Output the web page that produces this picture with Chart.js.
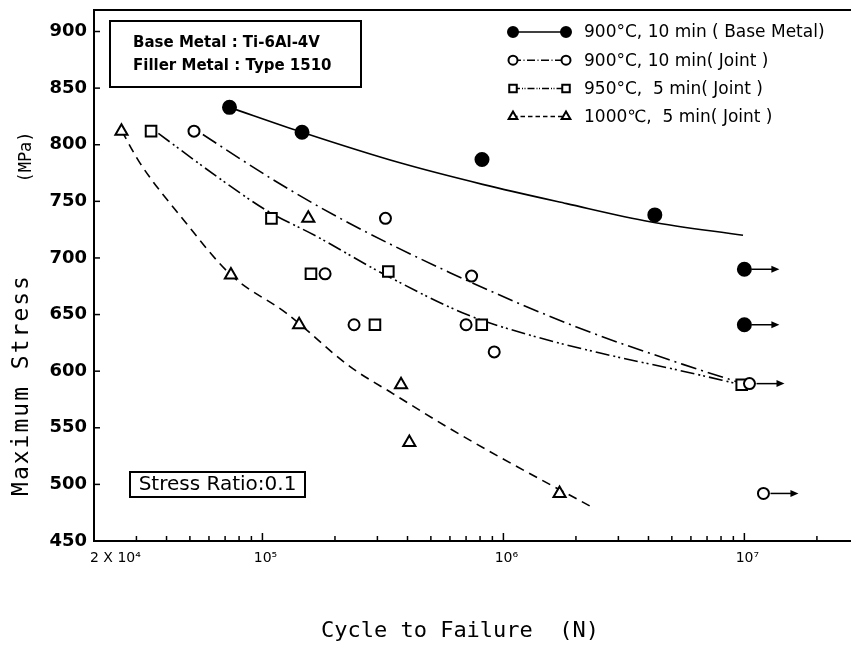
<!DOCTYPE html>
<html>
<head>
<meta charset="utf-8">
<script src="https://cdn.jsdelivr.net/npm/chart.js@4.4.0/dist/chart.umd.min.js"></script>
<style>
  html, body { margin: 0; padding: 0; background: #fff; }
</style>
</head>
<body>
<canvas id="snChart" width="851" height="648"></canvas>
<script>
// S-N data: cycles to failure (N) and max stress (MPa)
var baseN = [7.3e4, 1.46e5, 8.15e5, 4.25e6, 1.0e7, 1.0e7];
var baseS = [833, 811, 787, 738, 690, 641];
var baseRunout = [false, false, false, false, true, true];

var joint900N = [5.2e4, 1.82e5, 2.4e5, 3.24e5, 7.0e5, 7.38e5, 9.16e5, 1.05e7, 1.2e7];
var joint900S = [812, 686, 641, 735, 641, 684, 617, 589, 492];
var joint900Runout = [false, false, false, false, false, false, false, true, true];

var joint950N = [3.45e4, 1.09e5, 1.59e5, 2.93e5, 3.33e5, 8.13e5, 9.75e6];
var joint950S = [812, 735, 686, 641, 688, 641, 588];

var joint1000N = [2.6e4, 7.4e4, 1.42e5, 1.55e5, 3.76e5, 4.07e5, 1.71e6];
var joint1000S = [812, 685, 641, 735, 588, 537, 492];

// hand drawn fit curves
var baseFitN = [7.3e4, 1.46e5, 3.72e5, 8.2e5, 1.83e6, 4.06e6, 9.87e6];
var baseFitS = [833, 811, 784, 765, 748, 732, 720];
var joint900FitN = [5.66e4, 1.11e5, 2.1e5, 6.0e5, 2.01e6, 5.56e6, 9.86e6];
var joint900FitS = [809, 769, 735, 687, 639, 606, 589];
var joint950FitN = [3.7e4, 6.46e4, 1.04e5, 1.68e5, 3.17e5, 7.05e5, 1.33e6, 2.52e6, 5.56e6, 9.75e6];
var joint950FitS = [810, 772, 742, 719, 686, 650, 631, 616, 600, 588];
var joint1000FitN = [2.61e4, 3.1e4, 4.69e4, 7.4e4, 1.26e5, 2.31e5, 3.49e5, 5.81e5, 9.68e5, 2.28e6];
var joint1000FitS = [812, 784, 734, 685, 651, 604, 580, 551, 524, 481];

// axes
var xTicks = [2e4, 3e4, 4e4, 5e4, 6e4, 7e4, 8e4, 9e4,
  1e5, 2e5, 3e5, 4e5, 5e5, 6e5, 7e5, 8e5, 9e5,
  1e6, 2e6, 3e6, 4e6, 5e6, 6e6, 7e6, 8e6, 9e6,
  1e7, 2e7];
var xMajor = [1e5, 1e6, 1e7];
var xLabelValues = [2e4, 1e5, 1e6, 1e7];
var xLabelTexts = ["2 X 10\u2074", "10\u2075", "10\u2076", "10\u2077"];
var yTicks = [450, 500, 550, 600, 650, 700, 750, 800, 850, 900];

var legendLabels = [
  "900°C, 10 min ( Base Metal)",
  "900°C, 10 min( Joint )",
  "950°C,  5 min( Joint )",
  "1000℃,  5 min( Joint )",
];
var infoLines = ["Base Metal : Ti-6Al-4V", "Filler Metal : Type 1510"];
var ratioText = "Stress Ratio:0.1";

function pts(xs, ys) {
  return xs.map(function (x, i) {
    return { x: x, y: ys[i] };
  });
}

var dashes = [[], [16, 5, 2, 5], [14, 4, 2, 3, 2, 4], [9, 6]];
var markerStyles = ["circle", "circle", "rect", "triangle"];
var markerFilled = [true, false, false, false];

function drawMarker(ctx, style, filled, x, y, r) {
  ctx.save();
  ctx.lineWidth = 2;
  ctx.strokeStyle = "#000";
  ctx.fillStyle = filled ? "#000" : "#fff";
  ctx.beginPath();
  if (style === "circle") {
    ctx.arc(x, y, r, 0, Math.PI * 2);
  } else if (style === "rect") {
    ctx.rect(x - r * 0.75, y - r * 0.75, r * 1.5, r * 1.5);
  } else {
    ctx.moveTo(x, y - r);
    ctx.lineTo(x + r * 0.87, y + r * 0.5);
    ctx.lineTo(x - r * 0.87, y + r * 0.5);
    ctx.closePath();
  }
  ctx.fill();
  ctx.stroke();
  ctx.restore();
}

var annotations = {
  id: "annotations",
  afterDatasetsDraw: function (chart) {
    // run-out arrows
    var ctx = chart.ctx;
    chart.data.datasets.forEach(function (ds, i) {
      if (!ds.runout) return;
      chart.getDatasetMeta(i).data.forEach(function (pt, j) {
        if (!ds.runout[j]) return;
        var x0 = pt.x + 7;
        var x1 = pt.x + 35;
        ctx.save();
        ctx.strokeStyle = "#000";
        ctx.fillStyle = "#000";
        ctx.lineWidth = 1.5;
        ctx.beginPath();
        ctx.moveTo(x0, pt.y);
        ctx.lineTo(x1 - 5, pt.y);
        ctx.stroke();
        ctx.beginPath();
        ctx.moveTo(x1, pt.y);
        ctx.lineTo(x1 - 8, pt.y - 3.5);
        ctx.lineTo(x1 - 8, pt.y + 3.5);
        ctx.closePath();
        ctx.fill();
        ctx.restore();
      });
    });
  },
  afterDraw: function (chart) {
    var ctx = chart.ctx;
    var area = chart.chartArea;
    var xs = chart.scales.x;
    var ys = chart.scales.y;

    ctx.save();
    ctx.strokeStyle = "#000";
    ctx.fillStyle = "#000";

    // top frame line
    ctx.lineWidth = 2;
    ctx.beginPath();
    ctx.moveTo(area.left, area.top);
    ctx.lineTo(area.right, area.top);
    ctx.stroke();

    // inward tick marks
    ctx.lineWidth = 1.5;
    yTicks.forEach(function (v) {
      if (v === ys.min) return;
      var py = ys.getPixelForValue(v);
      ctx.beginPath();
      ctx.moveTo(area.left, py);
      ctx.lineTo(area.left + 6, py);
      ctx.stroke();
    });
    xTicks.forEach(function (v) {
      if (v === xs.min) return;
      var px = xs.getPixelForValue(v);
      var len = xMajor.indexOf(v) >= 0 ? 8 : 5;
      ctx.beginPath();
      ctx.moveTo(px, area.bottom);
      ctx.lineTo(px, area.bottom - len);
      ctx.stroke();
    });

    // x tick labels
    ctx.font = "14px 'DejaVu Sans'";
    ctx.textBaseline = "middle";
    xLabelValues.forEach(function (v, i) {
      var px = xs.getPixelForValue(v);
      if (i === 0) {
        ctx.textAlign = "left";
        ctx.fillText(xLabelTexts[i], px - 4, area.bottom + 17);
      } else {
        ctx.textAlign = "center";
        ctx.fillText(xLabelTexts[i], px + 3, area.bottom + 17);
      }
    });

    // material box
    ctx.lineWidth = 2;
    ctx.strokeRect(110, 21, 251, 66);
    ctx.font = "bold 15px 'DejaVu Sans'";
    ctx.textAlign = "left";
    infoLines.forEach(function (t, i) {
      ctx.fillText(t, 133, 43 + i * 23, 210);
    });

    // stress ratio box
    ctx.strokeRect(130, 472, 175, 25);
    ctx.font = "20px 'DejaVu Sans'";
    ctx.textAlign = "center";
    ctx.fillText(ratioText, 217.5, 485, 166);

    // legend
    ctx.font = "17px 'DejaVu Sans'";
    ctx.textAlign = "left";
    legendLabels.forEach(function (t, i) {
      var y = 32 + i * 28.2;
      ctx.save();
      ctx.lineWidth = 1.5;
      ctx.setLineDash(dashes[i].map(function (d) { return d * 0.5; }));
      ctx.beginPath();
      ctx.moveTo(513, y);
      ctx.lineTo(566, y);
      ctx.stroke();
      ctx.restore();
      var r = markerStyles[i] === "circle" ? (markerFilled[i] ? 5 : 4.5) : 5;
      drawMarker(ctx, markerStyles[i], markerFilled[i], 513, y, r);
      drawMarker(ctx, markerStyles[i], markerFilled[i], 566, y, r);
      ctx.fillText(t, 584, y + 1, 262);
    });

    // axis titles
    ctx.textAlign = "center";
    ctx.font = "22px 'DejaVu Sans Mono'";
    ctx.fillText("Cycle to Failure  (N)", 460, 631);

    ctx.save();
    ctx.translate(22, 385);
    ctx.rotate(-Math.PI / 2);
    ctx.font = "23px 'DejaVu Sans Mono'";
    ctx.letterSpacing = "2px";
    ctx.fillText("Maximum Stress", 0, 0);
    ctx.restore();

    ctx.save();
    ctx.translate(27, 157);
    ctx.rotate(-Math.PI / 2);
    ctx.font = "17px 'DejaVu Sans Mono'";
    ctx.fillText("(MPa)", 0, 0);
    ctx.restore();

    ctx.restore();
  },
};

function fitLine(xs, ys, dash) {
  return {
    data: pts(xs, ys),
    showLine: true,
    pointRadius: 0,
    borderColor: "#000",
    borderWidth: 1.6,
    borderDash: dash,
    cubicInterpolationMode: "monotone",
    order: 2,
  };
}

function markers(xs, ys, style, filled, radius, runout) {
  return {
    data: pts(xs, ys),
    showLine: false,
    pointStyle: style,
    pointRadius: radius,
    pointBorderWidth: 2,
    pointBorderColor: "#000",
    pointBackgroundColor: filled ? "#000" : "#fff",
    runout: runout,
    order: 1,
  };
}

var ctx = document.getElementById("snChart").getContext("2d");
new Chart(ctx, {
  type: "scatter",
  data: {
    datasets: [
      fitLine(baseFitN, baseFitS, dashes[0]),
      fitLine(joint900FitN, joint900FitS, dashes[1]),
      fitLine(joint950FitN, joint950FitS, dashes[2]),
      fitLine(joint1000FitN, joint1000FitS, dashes[3]),
      markers(baseN, baseS, "circle", true, 6.5, baseRunout),
      markers(joint900N, joint900S, "circle", false, 5.5, joint900Runout),
      markers(joint950N, joint950S, "rect", false, 7.5, null),
      markers(joint1000N, joint1000S, "triangle", false, 7, null),
    ],
  },
  options: {
    responsive: false,
    animation: false,
    layout: { autoPadding: false, padding: { top: 10, right: 0, bottom: 0, left: 0 } },
    plugins: {
      legend: { display: false },
      tooltip: { enabled: false },
    },
    scales: {
      x: {
        type: "logarithmic",
        min: 2e4,
        max: 2.77e7,
        afterBuildTicks: function (scale) {
          scale.ticks = xTicks.map(function (v) { return { value: v }; });
        },
        afterFit: function (scale) {
          scale.height = 107;
          scale.paddingLeft = 0;
          scale.paddingRight = 0;
        },
        ticks: { display: false },
        grid: { display: false, drawTicks: false },
        border: { display: true, color: "#000", width: 2 },
      },
      y: {
        min: 450,
        max: 919,
        afterBuildTicks: function (scale) {
          scale.ticks = yTicks.map(function (v) { return { value: v }; });
        },
        afterFit: function (scale) {
          scale.width = 94;
          scale.paddingTop = 0;
          scale.paddingBottom = 0;
        },
        ticks: {
          color: "#000",
          padding: 7,
          font: { family: "DejaVu Sans", size: 18, weight: "bold" },
        },
        grid: { display: false, drawTicks: false },
        border: { display: true, color: "#000", width: 2 },
      },
    },
  },
  plugins: [annotations],
});
</script>
</body>
</html>
